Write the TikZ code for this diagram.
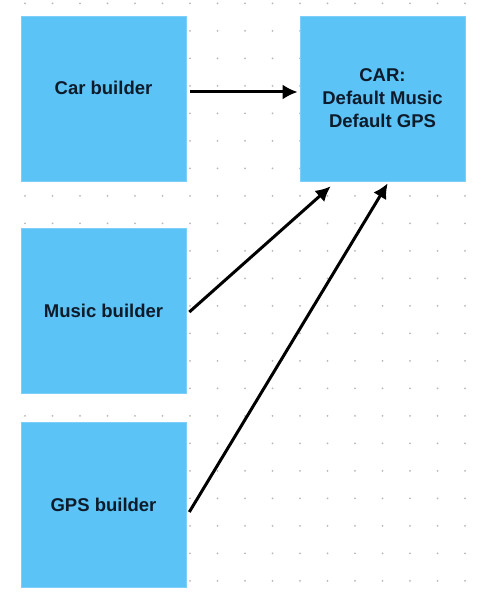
\documentclass[tikz,border=0pt]{standalone}
\usepackage{fontspec}
\setmainfont{Liberation Sans}
\usetikzlibrary{arrows.meta}
\definecolor{boxblue}{HTML}{5BC3F6}
\definecolor{ink}{HTML}{0E1B2A}
\tikzset{
  builderbox/.style={draw=boxblue!80!white, line width=0.6pt, fill=boxblue, minimum width=165pt, minimum height=165pt, inner sep=0pt, align=center, font=\fontsize{18.5}{23}\selectfont\bfseries, text=ink},
  link/.style={line width=3pt, black, -{Latex[length=15pt,width=15pt]}},
  griddot/.style={fill=black!28}
}
\begin{document}
\begin{tikzpicture}[x=1pt,y=-1pt]
\useasboundingbox (0,0) rectangle (485,604);
\fill[white] (0,0) rectangle (485,604);
\foreach \i in {0,...,16}{
  \foreach \j in {0,...,21}{
    \fill[griddot] (25+27.5*\i, 3.3+27.5*\j) circle (1pt);
  }
}
\node[builderbox] (carb) at (103.5,98.5) {};
\node[font=\fontsize{18.5}{23}\selectfont\bfseries, text=ink] (carbl) at (103.5,88) {Car builder};
\node[builderbox] (car) at (382.5,98.5) {CAR:\\Default Music\\Default GPS};
\node[builderbox] (music) at (103.5,311) {Music builder};
\node[builderbox] (gps) at (103.5,505) {GPS builder};
\coordinate (m1) at ([xshift=31pt,yshift=-5pt]car.south west);
\coordinate (g1) at ([xshift=88pt,yshift=-2pt]car.south west);
\draw[link] ([xshift=4pt,yshift=6.5pt]carb.east) -- ([xshift=-2pt,yshift=6.5pt]car.west);
\draw[link] ([xshift=3pt,yshift=-1pt]music.east) -- (m1);
\draw[link] ([xshift=3pt,yshift=-7pt]gps.east) -- (g1);
\end{tikzpicture}
\end{document}
